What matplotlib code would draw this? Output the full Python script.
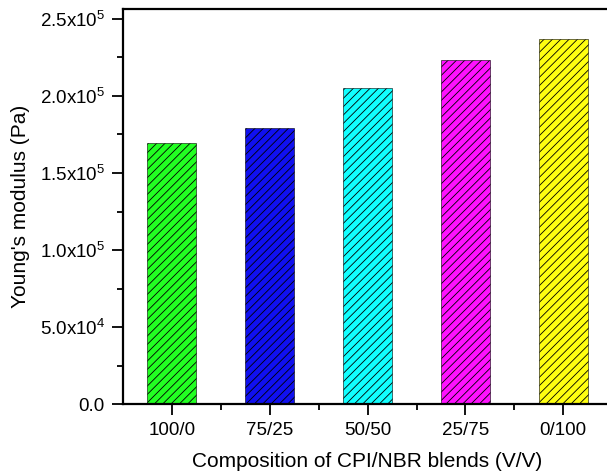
import numpy as np
import matplotlib.pyplot as plt
from matplotlib.ticker import FixedLocator, MultipleLocator

plt.rcParams['font.family'] = ['Liberation Sans', 'DejaVu Sans']
plt.rcParams['mathtext.fontset'] = 'custom'
plt.rcParams['mathtext.rm'] = 'Liberation Sans'
plt.rcParams['hatch.linewidth'] = 0.6

compositions = ['100/0', '75/25', '50/50', '25/75', '0/100']
modulus = [1.697e5, 1.790e5, 2.054e5, 2.236e5, 2.372e5]
bar_colors = ['#22ff22', '#1010f0', '#11ffff', '#ff11ff', '#ffff11']
ytick_vals = [0.0, 5.0e4, 1.0e5, 1.5e5, 2.0e5, 2.5e5]
ytick_text = ['0.0', '5.0x10$^{\\mathrm{4}}$', '1.0x10$^{\\mathrm{5}}$',
              '1.5x10$^{\\mathrm{5}}$', '2.0x10$^{\\mathrm{5}}$',
              '2.5x10$^{\\mathrm{5}}$']

fig = plt.figure(figsize=(6.07, 4.72), dpi=100)
ax = fig.add_axes([0.2026, 0.144, 0.806, 0.837])

x = np.arange(1, len(compositions) + 1)
ax.bar(x, modulus, width=0.5, color=bar_colors, edgecolor='black',
       linewidth=0.4, hatch='////')

ax.set_xlim(0.5, 5.5)
ax.set_ylim(0, 2.565e5)
ax.set_xticks(x)
ax.set_xticklabels(compositions)
ax.xaxis.set_minor_locator(FixedLocator(x[:-1] + 0.5))
ax.set_yticks(ytick_vals)
ax.set_yticklabels(ytick_text)
ax.yaxis.set_minor_locator(MultipleLocator(2.5e4))

ax.tick_params(which='major', direction='out', length=8, width=1.3,
               labelsize=13.5, pad=5)
ax.tick_params(which='minor', direction='out', length=4, width=1.3)
for s in ax.spines.values():
    s.set_linewidth(1.6)

ax.set_xlabel('Composition of CPI/NBR blends (V/V)', fontsize=15, labelpad=9)
ax.set_ylabel("Young's modulus (Pa)", fontsize=15, labelpad=7)

fig.savefig('out.png', dpi=100)
